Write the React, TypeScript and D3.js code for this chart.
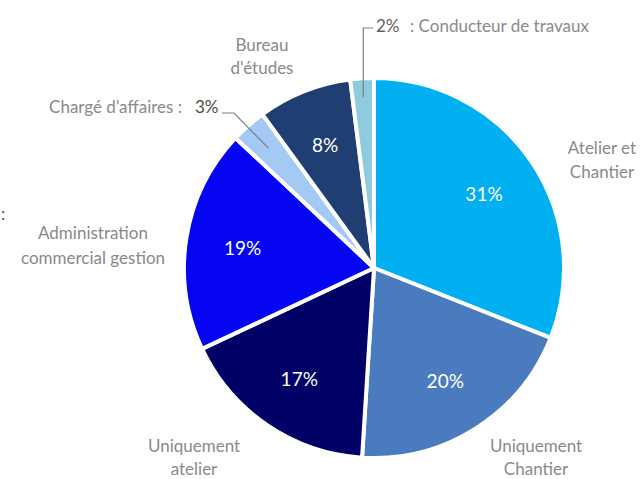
import React, { useEffect, useRef } from 'react'
import * as d3 from 'd3'

const labels = [
  'Atelier et Chantier',
  'Uniquement Chantier',
  'Uniquement atelier',
  'Administration commercial gestion',
  "Chargé d'affaires",
  "Bureau d'études",
  'Conducteur de travaux',
]
const values = [31, 20, 17, 19, 3, 8, 2]
const colors = ['#00b0f0', '#4a7bbf', '#000066', '#0505f2', '#a3c9f5', '#1f3f73', '#8ecbde']

const App = () => {
  const svgRef = useRef<SVGSVGElement>(null)

  useEffect(() => {
    const width = 644
    const height = 479
    const cx = 374
    const cy = 268
    const radius = 190

    const svg = d3.select(svgRef.current)
    svg.selectAll('*').remove()
    svg.attr('width', width).attr('height', height)

    const data = labels.map((label, i) => ({ label, value: values[i] }))
    const pie = d3
      .pie<{ label: string; value: number }>()
      .sort(null)
      .value((d) => d.value)
    const arcs = pie(data)

    const arc = d3.arc<d3.PieArcDatum<{ label: string; value: number }>>().innerRadius(0).outerRadius(radius)
    const labelArc = d3
      .arc<d3.PieArcDatum<{ label: string; value: number }>>()
      .innerRadius(radius * 0.7)
      .outerRadius(radius * 0.7)

    const g = svg.append('g').attr('transform', `translate(${cx},${cy})`)

    g.selectAll('path')
      .data(arcs)
      .enter()
      .append('path')
      .attr('d', arc)
      .attr('fill', (d, i) => colors[i])
      .attr('stroke', 'white')
      .style('stroke-width', '4px')

    // pourcentages dans les parts
    g.selectAll('text.pct')
      .data(arcs.filter((d) => d.data.value >= 5))
      .enter()
      .append('text')
      .attr('class', 'pct')
      .attr('x', (d) => labelArc.centroid(d)[0])
      .attr('y', (d) => labelArc.centroid(d)[1])
      .attr('text-anchor', 'middle')
      .attr('dominant-baseline', 'central')
      .style('font-family', 'Lato, sans-serif')
      .style('font-size', '19px')
      .style('fill', 'white')
      .text((d) => `${d.data.value}%`)

    const gray = '#8a8a8a'
    const text = (x: number, y: number, s: string, anchor = 'middle', fill = gray) =>
      svg
        .append('text')
        .attr('x', x)
        .attr('y', y)
        .attr('text-anchor', anchor)
        .style('font-family', 'Lato, sans-serif')
        .style('font-size', '17px')
        .style('fill', fill)
        .text(s)

    // étiquettes extérieures
    text(602, 154, 'Atelier et')
    text(602, 178, 'Chantier')
    text(536, 452, 'Uniquement')
    text(536, 475, 'Chantier')
    text(194, 452, 'Uniquement')
    text(194, 475, 'atelier')
    text(93, 239, 'Administration')
    text(93, 264, 'commercial gestion')
    text(262, 51, 'Bureau')
    text(262, 74, "d'études")
    text(182, 113, "Chargé d'affaires :", 'end')
    text(195, 113, `${values[4]}%`, 'start', '#4d4d40')
    text(376, 32, `${values[6]}%`, 'start', '#606060')
    text(410, 32, ': Conducteur de travaux', 'start')
    text(1, 220, ':', 'start', '#595959')

    // lignes de rappel
    const line = d3.line()
    const c3 = arc.centroid(arcs[4])
    const c2 = arc.centroid(arcs[6])
    svg
      .append('path')
      .attr('d', line([[222, 113], [234, 113], [cx + c3[0] * 1.68, cy + c3[1] * 1.68]]))
      .attr('fill', 'none')
      .attr('stroke', '#7f7f7f')
      .attr('stroke-width', 1.2)
    svg
      .append('path')
      .attr('d', line([[cx + c2[0] * 1.8, cy + c2[1] * 1.8], [cx + c2[0] * 1.8, 28], [373, 28]]))
      .attr('fill', 'none')
      .attr('stroke', '#7f7f7f')
      .attr('stroke-width', 1.2)
  }, [])

  return (
    <div>
      <svg ref={svgRef} style={{ position: 'absolute', top: 0, left: 0, display: 'block' }}></svg>
    </div>
  )
}

export default App
